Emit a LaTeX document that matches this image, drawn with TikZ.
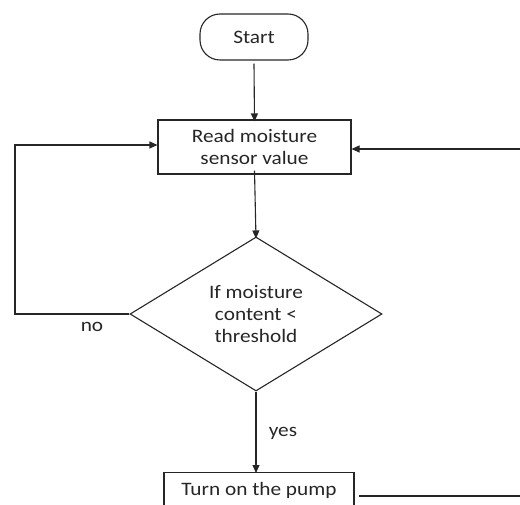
\documentclass[tikz,border=0pt]{standalone}
\usepackage{fontspec}
\setmainfont{Carlito}[FakeStretch=1.12]
\usetikzlibrary{shapes.geometric,arrows.meta}
\begin{document}
\begin{tikzpicture}[x=1pt,y=-1pt,
  every node/.style={font=\fontsize{19}{22}\selectfont, text=black!85},
  line/.style={draw=black!85, line width=1.1pt},
  arr/.style={line, -{Triangle[length=8pt,width=7pt]}},
  term/.style={line, rounded corners=20pt, minimum width=108pt, minimum height=46pt, inner sep=0pt},
  proc/.style={line, minimum width=193pt, minimum height=54pt, inner sep=0pt, align=center},
  dec/.style={line, diamond, minimum width=252pt, minimum height=154pt, shape aspect=1.636, inner sep=0pt, align=center},
  lbl/.style={inner sep=0pt}]
\useasboundingbox (0,0) rectangle (520,505);
\clip (0,0) rectangle (520,505);
\node[term] (start) at (254,37) {Start};
\node[proc] (read) at (254.5,147) {Read moisture\\sensor value};
\node[dec] (dia) at (256,314) {If moisture\\content <\\threshold};
\node[proc, anchor=north, minimum width=190pt, text height=22pt, text depth=30pt] (pump) at (259,472) {Turn on the pump};
\coordinate (lc) at (15,314);
\coordinate (rr) at (520,149);
\coordinate (pr) at (520,496);
\draw[arr] (start.south) ++(0,3) -- ([yshift=-2pt]read.north);
\draw[arr] ([yshift=4pt]read.south) -- ([yshift=-2pt]dia.north);
\draw[arr] (dia.south) -- ([yshift=-1pt]dia.south |- pump.north);
\draw[arr] (dia.west) -- (lc) |- ([yshift=2pt]read.west);
\draw[arr] (rr) -- (read.east |- rr);
\draw[line] ([xshift=4pt]pump.east |- pr) -- (pr);
\node[lbl] (no) at (92,327) {no};
\node[lbl] (yes) at (283,433) {yes};
\end{tikzpicture}
\end{document}
